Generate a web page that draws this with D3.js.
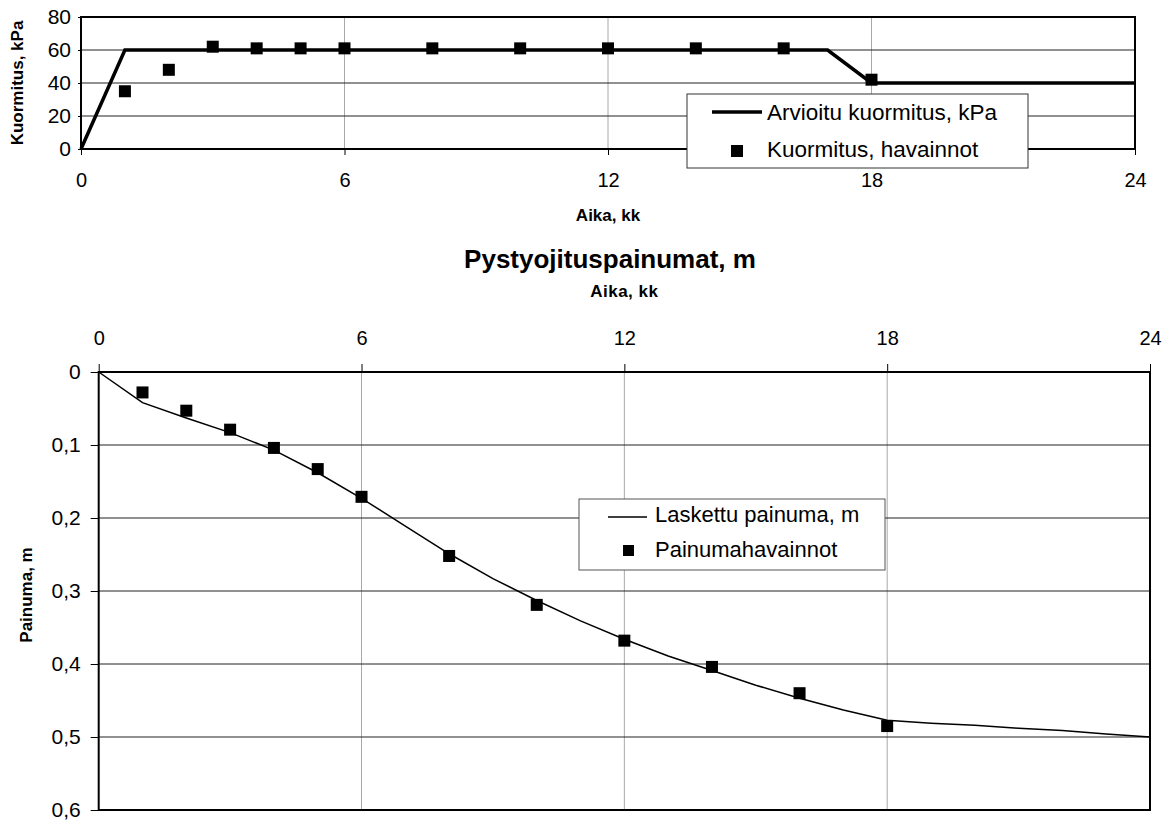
<!DOCTYPE html>
<html>
<head>
<meta charset="utf-8">
<script src="https://cdn.jsdelivr.net/npm/d3@7/dist/d3.min.js"></script>
<style>
  body { margin: 0; background: #fff; }
  svg { display: block; font-family: "Liberation Sans", Arial, sans-serif; }
</style>
</head>
<body>
<main></main>
<script>
(function () {

    // kuormitus (top chart)
    var loadMonths = [0, 1, 17, 18, 23, 24],
        loadValues = [0, 60, 60, 40, 40, 40],
        loadObsMonths = [1, 2, 3, 4, 5, 6, 8, 10, 12, 14, 16, 18],
        loadObsValues = [35, 48, 62, 61, 61, 61, 61, 61, 61, 61, 61, 42],
        loadTicks = [0, 20, 40, 60, 80];

    // painuma (bottom chart)
    var settleMonths = [0, 1, 2, 3, 4, 5, 6, 7, 8, 9, 10, 11, 12, 13, 14, 15, 16, 17, 18, 19, 20, 21, 22, 23, 24],
        settleValues = [0, 0.042, 0.063, 0.083, 0.107, 0.138, 0.173, 0.211, 0.249, 0.283, 0.313, 0.341, 0.366, 0.389, 0.409, 0.429, 0.447, 0.463, 0.477, 0.481, 0.484, 0.488, 0.491, 0.496, 0.5],
        settleObsMonths = [1, 2, 3, 4, 5, 6, 8, 10, 12, 14, 16, 18],
        settleObsValues = [0.028, 0.053, 0.079, 0.104, 0.133, 0.171, 0.252, 0.319, 0.368, 0.404, 0.440, 0.485],
        settleTicks = [0, 0.1, 0.2, 0.3, 0.4, 0.5, 0.6];

    var monthTicks = [0, 6, 12, 18, 24];

    var fi = d3.formatLocale({decimal: ",", thousands: "\u00a0", grouping: [3], currency: ["", " €"]}),
        fmt = fi.format("~g");

    var svg = d3.select("main").append("svg")
            .attr("width", 1165)
            .attr("height", 822);

    var pick = function (xs, ys) {
            return xs.map(function (x, i) { return [x, ys[i]]; });
        };

    var styleAxis = function (g, size) {
            g.select(".domain").remove();
            g.selectAll(".tick line").attr("stroke", "#000");
            g.selectAll("text")
                .attr("fill", "#000")
                .style("font-size", size + "px")
                .style("font-family", "Liberation Sans, Arial, sans-serif");
        };

    // ---------- top chart ----------
    var top = {left: 81, right: 1135, top: 17, bottom: 149};

    var x1 = d3.scaleLinear().domain([0, 24]).range([top.left, top.right]),
        y1 = d3.scaleLinear().domain([0, 80]).range([top.bottom, top.top]);

    var g1 = svg.append("g");

    g1.selectAll("line.vgrid")
        .data(monthTicks.slice(1, -1))
        .join("line")
        .attr("x1", function (d) { return x1(d); })
        .attr("x2", function (d) { return x1(d); })
        .attr("y1", top.top)
        .attr("y2", top.bottom)
        .attr("stroke", "#a8a8a8")
        .attr("stroke-width", 1);

    g1.selectAll("line.hgrid")
        .data(loadTicks.slice(1, -1))
        .join("line")
        .attr("x1", top.left)
        .attr("x2", top.right)
        .attr("y1", function (d) { return y1(d); })
        .attr("y2", function (d) { return y1(d); })
        .attr("stroke", "#222")
        .attr("stroke-width", 1);

    g1.append("g")
        .attr("transform", "translate(0," + top.bottom + ")")
        .call(d3.axisBottom(x1).tickValues(monthTicks).tickSize(6).tickPadding(18).tickFormat(fmt))
        .call(styleAxis, 20);

    g1.append("g")
        .attr("transform", "translate(" + top.left + ",0)")
        .call(d3.axisLeft(y1).tickValues(loadTicks).tickSize(3).tickPadding(7).tickFormat(fmt))
        .call(styleAxis, 21);

    g1.append("rect")
        .attr("x", top.left)
        .attr("y", top.top)
        .attr("width", top.right - top.left)
        .attr("height", top.bottom - top.top)
        .attr("fill", "none")
        .attr("stroke", "#000")
        .attr("stroke-width", 2);

    g1.append("path")
        .datum(pick(loadMonths, loadValues))
        .attr("d", d3.line().x(function (d) { return x1(d[0]); }).y(function (d) { return y1(d[1]); }))
        .attr("fill", "none")
        .attr("stroke", "#000")
        .attr("stroke-width", 3.5);

    g1.selectAll("rect.obs")
        .data(pick(loadObsMonths, loadObsValues))
        .join("rect")
        .attr("x", function (d) { return x1(d[0]) - 6; })
        .attr("y", function (d) { return y1(d[1]) - 6; })
        .attr("width", 12)
        .attr("height", 12)
        .attr("fill", "#000");

    g1.append("text")
        .attr("x", (top.left + top.right) / 2)
        .attr("y", 221)
        .attr("text-anchor", "middle")
        .style("font-size", "17px")
        .style("font-weight", "bold")
        .text("Aika, kk");

    g1.append("text")
        .attr("transform", "translate(23," + (top.top + top.bottom) / 2 + ") rotate(-90)")
        .attr("text-anchor", "middle")
        .style("font-size", "17px")
        .style("font-weight", "bold")
        .text("Kuormitus, kPa");

    var leg1 = g1.append("g").attr("transform", "translate(687,94)");
    leg1.append("rect")
        .attr("width", 341)
        .attr("height", 74)
        .attr("fill", "#fff")
        .attr("stroke", "#333")
        .attr("stroke-width", 1);
    leg1.append("line")
        .attr("x1", 25).attr("x2", 75)
        .attr("y1", 18).attr("y2", 18)
        .attr("stroke", "#000")
        .attr("stroke-width", 3.5);
    leg1.append("text")
        .attr("x", 80).attr("y", 26)
        .style("font-size", "22.5px")
        .text("Arvioitu kuormitus, kPa");
    leg1.append("rect")
        .attr("x", 44).attr("y", 51)
        .attr("width", 12).attr("height", 12)
        .attr("fill", "#000");
    leg1.append("text")
        .attr("x", 80).attr("y", 63)
        .style("font-size", "22.5px")
        .text("Kuormitus, havainnot");

    // ---------- title ----------
    svg.append("text")
        .attr("x", 610)
        .attr("y", 268)
        .attr("text-anchor", "middle")
        .style("font-size", "26px")
        .style("font-weight", "bold")
        .text("Pystyojituspainumat, m");

    // ---------- bottom chart ----------
    var bot = {left: 98.7, right: 1150, top: 372, bottom: 810};

    var x2 = d3.scaleLinear().domain([0, 24]).range([bot.left, bot.right]),
        y2 = d3.scaleLinear().domain([0, 0.6]).range([bot.top, bot.bottom]);

    var g2 = svg.append("g");

    g2.selectAll("line.vgrid")
        .data(monthTicks.slice(1, -1))
        .join("line")
        .attr("x1", function (d) { return x2(d); })
        .attr("x2", function (d) { return x2(d); })
        .attr("y1", bot.top)
        .attr("y2", bot.bottom)
        .attr("stroke", "#a8a8a8")
        .attr("stroke-width", 1);

    g2.selectAll("line.hgrid")
        .data(settleTicks.slice(1, -1))
        .join("line")
        .attr("x1", bot.left)
        .attr("x2", bot.right)
        .attr("y1", function (d) { return y2(d); })
        .attr("y2", function (d) { return y2(d); })
        .attr("stroke", "#222")
        .attr("stroke-width", 1);

    g2.append("g")
        .attr("transform", "translate(0," + bot.top + ")")
        .call(d3.axisTop(x2).tickValues(monthTicks).tickSize(8).tickPadding(19).tickFormat(fmt))
        .call(styleAxis, 20);

    g2.append("g")
        .attr("transform", "translate(" + bot.left + ",0)")
        .call(d3.axisLeft(y2).tickValues(settleTicks).tickSize(8).tickPadding(10).tickFormat(fmt))
        .call(styleAxis, 21);

    g2.append("rect")
        .attr("x", bot.left)
        .attr("y", bot.top)
        .attr("width", bot.right - bot.left)
        .attr("height", bot.bottom - bot.top)
        .attr("fill", "none")
        .attr("stroke", "#000")
        .attr("stroke-width", 2);

    g2.append("path")
        .datum(pick(settleMonths, settleValues))
        .attr("d", d3.line().x(function (d) { return x2(d[0]); }).y(function (d) { return y2(d[1]); }))
        .attr("fill", "none")
        .attr("stroke", "#000")
        .attr("stroke-width", 1.5);

    g2.selectAll("rect.obs")
        .data(pick(settleObsMonths, settleObsValues))
        .join("rect")
        .attr("x", function (d) { return x2(d[0]) - 6; })
        .attr("y", function (d) { return y2(d[1]) - 6; })
        .attr("width", 12)
        .attr("height", 12)
        .attr("fill", "#000");

    g2.append("text")
        .attr("x", (bot.left + bot.right) / 2)
        .attr("y", 297)
        .attr("text-anchor", "middle")
        .style("font-size", "17px")
        .style("font-weight", "bold")
        .style("letter-spacing", "0.5px")
        .text("Aika, kk");

    g2.append("text")
        .attr("transform", "translate(32,595) rotate(-90)")
        .attr("text-anchor", "middle")
        .style("font-size", "17px")
        .style("font-weight", "bold")
        .text("Painuma, m");

    var leg2 = g2.append("g").attr("transform", "translate(579,499)");
    leg2.append("rect")
        .attr("width", 306)
        .attr("height", 71)
        .attr("fill", "#fff")
        .attr("stroke", "#555")
        .attr("stroke-width", 1);
    leg2.append("line")
        .attr("x1", 29).attr("x2", 68)
        .attr("y1", 18).attr("y2", 18)
        .attr("stroke", "#000")
        .attr("stroke-width", 1.5);
    leg2.append("text")
        .attr("x", 76).attr("y", 23)
        .style("font-size", "22px")
        .text("Laskettu painuma, m");
    leg2.append("rect")
        .attr("x", 44).attr("y", 46)
        .attr("width", 11).attr("height", 11)
        .attr("fill", "#000");
    leg2.append("text")
        .attr("x", 76).attr("y", 58)
        .style("font-size", "22px")
        .text("Painumahavainnot");

})();
</script>
</body>
</html>
